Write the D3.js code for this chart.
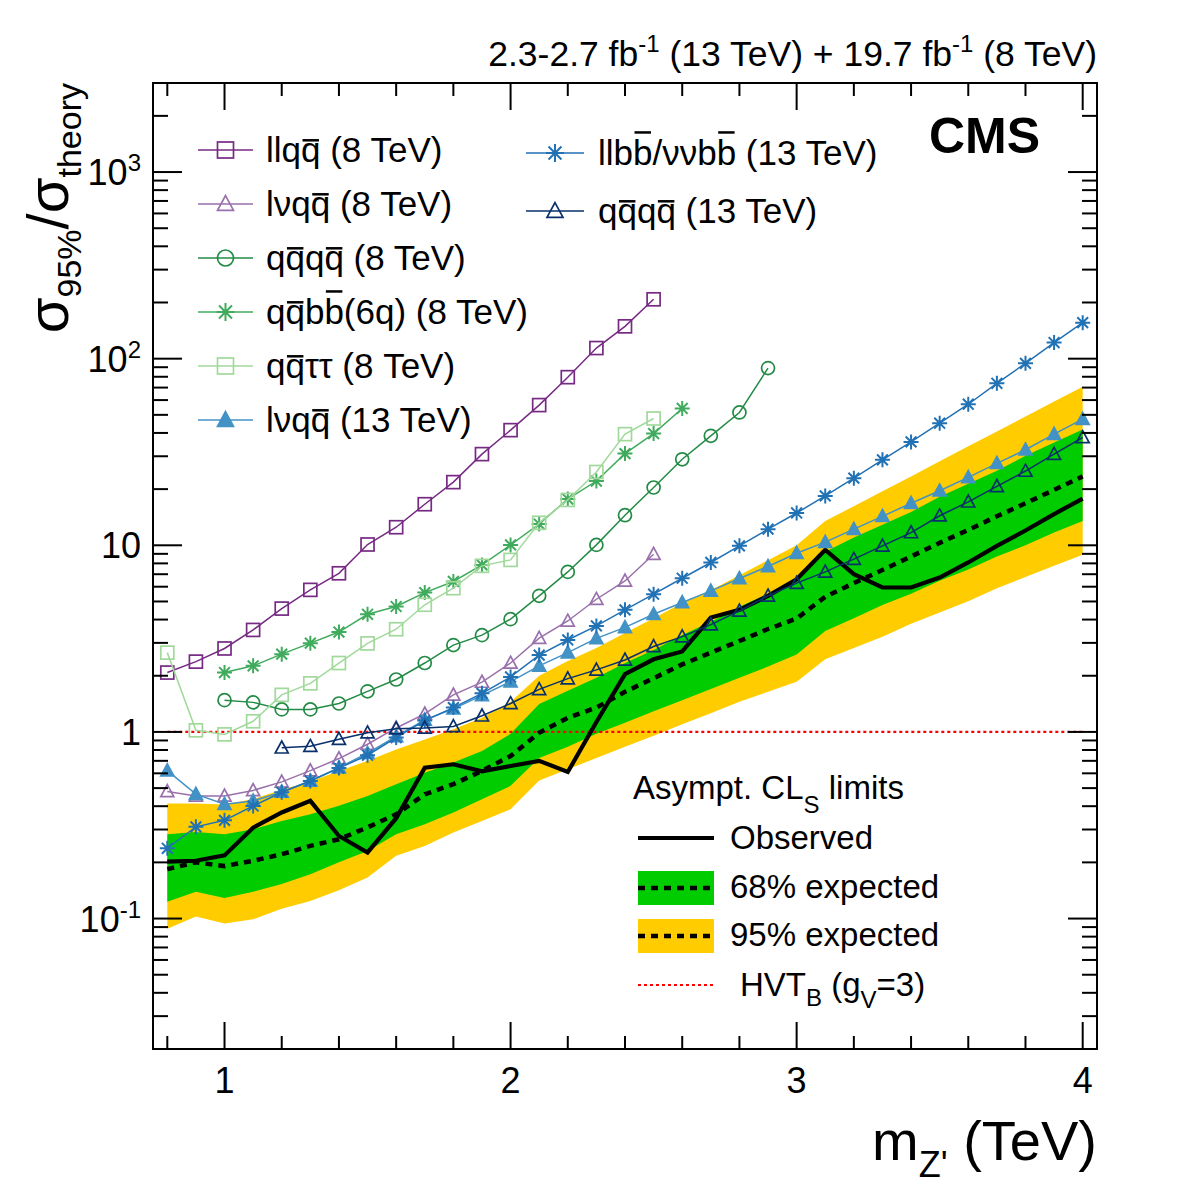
<!DOCTYPE html>
<html>
<head>
<meta charset="utf-8">
<script src="https://cdn.jsdelivr.net/npm/d3@7"></script>
<style>
body { margin: 0; background: #fff; }
text { font-family: "Liberation Sans", Arial, Helvetica, sans-serif; fill: #000; }
</style>
</head>
<body>
<svg width="1182" height="1194"></svg>
<script>
// mass points (TeV)
var massAll = [0.8, 0.9, 1.0, 1.1, 1.2, 1.3, 1.4, 1.5, 1.6, 1.7, 1.8, 1.9, 2.0, 2.1, 2.2, 2.3, 2.4,
               2.5, 2.6, 2.7, 2.8, 2.9, 3.0, 3.1, 3.2, 3.3, 3.4, 3.5, 3.6, 3.7, 3.8, 3.9, 4.0];

// combined limits
var observed = [0.202, 0.204, 0.218, 0.307, 0.37, 0.427, 0.277, 0.226, 0.345, 0.644, 0.671, 0.615, 0.657,
                0.70, 0.61, 1.13, 2.04, 2.45, 2.70, 4.10, 4.51, 5.36, 6.58, 9.45, 7.0, 5.94, 5.94, 6.72,
                8.09, 9.93, 12.0, 14.7, 17.8];
var expected = [0.184, 0.2, 0.191, 0.204, 0.221, 0.245, 0.266, 0.308, 0.362, 0.463, 0.525, 0.618, 0.743,
                0.99, 1.19, 1.35, 1.64, 1.94, 2.3, 2.66, 3.07, 3.56, 4.05, 5.3, 6.27, 7.38, 8.71, 10.3,
                12.1, 14.3, 16.8, 19.8, 23.4];
var up1 = [0.283, 0.291, 0.283, 0.301, 0.333, 0.362, 0.402, 0.454, 0.525, 0.605, 0.685, 0.791, 0.977,
           1.41, 1.66, 1.95, 2.34, 2.75, 3.31, 3.89, 4.68, 5.5, 6.61, 9.23, 11.0, 12.9, 15.1, 18.2,
           21.4, 25.1, 30.2, 35.5, 41.7];
var dn1 = [0.123, 0.139, 0.129, 0.139, 0.153, 0.173, 0.2, 0.23, 0.283, 0.32, 0.37, 0.436, 0.514,
           0.724, 0.832, 0.977, 1.12, 1.29, 1.48, 1.70, 1.95, 2.24, 2.6, 3.47, 4.07, 4.79, 5.5, 6.46,
           7.41, 8.71, 10.0, 11.7, 13.5];
var up2 = [0.413, 0.413, 0.408, 0.437, 0.49, 0.543, 0.617, 0.70, 0.804, 0.912, 1.035, 1.19, 1.45,
           2.0, 2.4, 2.82, 3.39, 4.07, 4.9, 5.75, 6.92, 8.32, 10.0, 13.5, 16.2, 19.5, 23.4, 28.2,
           33.9, 40.7, 49.0, 58.9, 70.8];
var dn2 = [0.0883, 0.1026, 0.094, 0.099, 0.113, 0.124, 0.142, 0.166, 0.217, 0.245, 0.289, 0.333, 0.385,
           0.55, 0.631, 0.724, 0.832, 0.955, 1.1, 1.26, 1.45, 1.64, 1.86, 2.45, 2.82, 3.24, 3.8, 4.37,
           5.01, 5.89, 6.76, 7.76, 8.91];

// individual channels
var llqq8 = [2.08, 2.38, 2.80, 3.52, 4.58, 5.77, 7.08, 10.1, 12.5, 16.6, 21.8, 30.8, 41.4, 56.4, 79.6, 114, 149, 208];
var lvqq8 = [0.48, 0.454, 0.454, 0.486, 0.54, 0.62, 0.72, 0.859, 1.05, 1.25, 1.58, 1.85, 2.34, 3.18, 3.93, 5.14, 6.44, 8.96];
var qqqq8 = [1.48, 1.44, 1.32, 1.32, 1.42, 1.65, 1.91, 2.34, 2.92, 3.30, 4.02, 5.36, 7.20, 10.05, 14.5, 20.4, 28.9, 38.6, 51.5, 89];
var qqbb8 = [2.08, 2.26, 2.61, 2.99, 3.43, 4.27, 4.70, 5.58, 6.40, 7.85, 10.05, 13.0, 17.7, 22.1, 31.0, 39.7, 54.1];
var qqtt8 = [2.66, 1.02, 0.97, 1.14, 1.58, 1.82, 2.34, 2.98, 3.55, 4.80, 5.89, 7.76, 8.35, 13.2, 17.5, 24.7, 39.4, 47.8];
var lvqq13 = [0.62, 0.464, 0.41, 0.427, 0.477, 0.546, 0.644, 0.769, 0.945, 1.16, 1.33, 1.57, 1.86, 2.26, 2.66,
              3.17, 3.63, 4.27, 4.94, 5.70, 6.64, 7.70, 9.07, 10.4, 12.2, 14.3, 16.8, 19.6, 23.1, 27.5, 32.5, 39.4, 47.4];
var llbb13 = [0.238, 0.31, 0.336, 0.401, 0.475, 0.546, 0.64, 0.75, 0.933, 1.15, 1.35, 1.61, 1.97, 2.58, 3.11,
              3.70, 4.51, 5.47, 6.66, 8.09, 9.93, 12.2, 14.9, 18.4, 22.9, 28.7, 35.8, 45.1, 57.0, 73.8, 94.4, 122, 156];
var qqqq13 = [0.822, 0.838, 0.914, 0.99, 1.04, 1.05, 1.07, 1.22, 1.42, 1.69, 1.93, 2.15, 2.43, 2.87, 3.24,
              3.76, 4.45, 5.36, 6.27, 7.20, 8.43, 9.93, 11.7, 14.4, 17.1, 20.7, 25.0, 30.8, 37.8];

var hvt = 1;

// "~" puts a bar over the character before it
var channels = [
  { label: "llqq~ (8 TeV)", m0: 0.8, vals: llqq8, color: "#762a83", mk: "square" },
  { label: "lνqq~ (8 TeV)", m0: 0.8, vals: lvqq8, color: "#9970ab", mk: "triangle" },
  { label: "qq~qq~ (8 TeV)", m0: 1.0, vals: qqqq8, color: "#238b45", mk: "circle" },
  { label: "qq~bb~(6q) (8 TeV)", m0: 1.0, vals: qqbb8, color: "#41ab5d", mk: "star" },
  { label: "qq~ττ (8 TeV)", m0: 0.8, vals: qqtt8, color: "#a1d99b", mk: "square" },
  { label: "lνqq~ (13 TeV)", m0: 0.8, vals: lvqq13, color: "#4292c6", mk: "triangleFilled" },
  { label: "llbb~/ννbb~ (13 TeV)", m0: 0.8, vals: llbb13, color: "#2171b5", mk: "star" },
  { label: "qq~qq~ (13 TeV)", m0: 1.2, vals: qqqq13, color: "#08306b", mk: "triangle" }
];

var svg = d3.select("svg");
var L = 153, R = 1097, T = 83, B = 1049;

var x = d3.scaleLinear().domain([0.75, 4.05]).range([L, R]);
var y = d3.scaleLog().domain([0.02, 3000]).range([B, T]);

function pts(m0, vals) {
  var i0 = massAll.findIndex(function (m) { return Math.abs(m - m0) < 1e-6; });
  return vals.map(function (v, i) { return { m: massAll[i0 + i], v: v }; });
}

// bands
var band = massAll.map(function (m, i) {
  return { m: m, d2: dn2[i], u2: up2[i], d1: dn1[i], u1: up1[i], e: expected[i], o: observed[i] };
});

var area2 = d3.area().x(function (d) { return x(d.m); })
  .y0(function (d) { return y(d.d2); }).y1(function (d) { return y(d.u2); });
var area1 = d3.area().x(function (d) { return x(d.m); })
  .y0(function (d) { return y(d.d1); }).y1(function (d) { return y(d.u1); });

svg.append("path").attr("d", area2(band)).attr("fill", "#ffcc00");
svg.append("path").attr("d", area1(band)).attr("fill", "#00cc00");

// HVT reference line
svg.append("line")
  .attr("x1", x(0.8)).attr("x2", x(4.0))
  .attr("y1", y(hvt)).attr("y2", y(hvt))
  .attr("stroke", "#ff0000").attr("stroke-width", 2.2).attr("stroke-dasharray", "3,3");

var line = d3.line().x(function (d) { return x(d.m); }).y(function (d) { return y(d.v); });

svg.append("path")
  .attr("d", d3.line().x(function (d) { return x(d.m); }).y(function (d) { return y(d.e); })(band))
  .attr("fill", "none").attr("stroke", "#000").attr("stroke-width", 4.5).attr("stroke-dasharray", "7,6");

svg.append("path")
  .attr("d", d3.line().x(function (d) { return x(d.m); }).y(function (d) { return y(d.o); })(band))
  .attr("fill", "none").attr("stroke", "#000").attr("stroke-width", 4.2);

function marker(g, type, cx, cy, s, color) {
  var h = s / 2;
  if (type === "square") {
    g.append("rect").attr("x", cx - h).attr("y", cy - h).attr("width", s).attr("height", s)
      .attr("fill", "none").attr("stroke", color).attr("stroke-width", 1.7);
  } else if (type === "circle") {
    g.append("circle").attr("cx", cx).attr("cy", cy).attr("r", h)
      .attr("fill", "none").attr("stroke", color).attr("stroke-width", 1.7);
  } else if (type === "triangle" || type === "triangleFilled") {
    g.append("path")
      .attr("d", "M" + cx + "," + (cy - h * 1.05) + "L" + (cx + h) + "," + (cy + h * 0.8) + "L" + (cx - h) + "," + (cy + h * 0.8) + "Z")
      .attr("fill", type === "triangleFilled" ? color : "none")
      .attr("stroke", color).attr("stroke-width", 1.7);
  } else if (type === "star") {
    var a = h * 0.72;
    g.append("path")
      .attr("d", "M" + (cx - h) + "," + cy + "H" + (cx + h) + "M" + cx + "," + (cy - h) + "V" + (cy + h) +
        "M" + (cx - a) + "," + (cy - a) + "L" + (cx + a) + "," + (cy + a) +
        "M" + (cx - a) + "," + (cy + a) + "L" + (cx + a) + "," + (cy - a))
      .attr("fill", "none").attr("stroke", color).attr("stroke-width", 2);
  }
}

var gs = svg.append("g");
channels.forEach(function (c) {
  var p = pts(c.m0, c.vals);
  gs.append("path").attr("d", line(p)).attr("fill", "none").attr("stroke", c.color).attr("stroke-width", 1.5);
  p.forEach(function (d) { marker(gs, c.mk, x(d.m), y(d.v), c.mk === "star" ? 15 : 13, c.color); });
});

// frame and ticks
svg.append("rect").attr("x", L).attr("y", T).attr("width", R - L).attr("height", B - T)
  .attr("fill", "none").attr("stroke", "#000").attr("stroke-width", 2);

var gt = svg.append("g").attr("stroke", "#000").attr("stroke-width", 2);
var xMajor = [1, 2, 3, 4];
var xMinor = d3.range(0.8, 4.01, 0.2).filter(function (v) { return Math.abs(v - Math.round(v)) > 0.01; });
xMajor.concat(xMinor).forEach(function (v) {
  var len = xMajor.indexOf(v) >= 0 ? 27 : 13;
  var px = x(v);
  gt.append("line").attr("x1", px).attr("x2", px).attr("y1", B).attr("y2", B - len);
  gt.append("line").attr("x1", px).attr("x2", px).attr("y1", T).attr("y2", T + len);
});
var yMajor = [0.1, 1, 10, 100, 1000];
var yMinor = [];
[-2, -1, 0, 1, 2, 3].forEach(function (e) {
  for (var k = 2; k <= 9; k++) {
    var v = k * Math.pow(10, e);
    if (v >= 0.02 && v <= 3000) yMinor.push(v);
  }
});
yMajor.forEach(function (v) {
  var py = y(v);
  gt.append("line").attr("x1", L).attr("x2", L + 29).attr("y1", py).attr("y2", py);
  gt.append("line").attr("x1", R).attr("x2", R - 29).attr("y1", py).attr("y2", py);
});
yMinor.forEach(function (v) {
  var py = y(v);
  gt.append("line").attr("x1", L).attr("x2", L + 15).attr("y1", py).attr("y2", py);
  gt.append("line").attr("x1", R).attr("x2", R - 15).attr("y1", py).attr("y2", py);
});

// tick labels
var fsTick = 36;
xMajor.forEach(function (v) {
  svg.append("text").attr("x", x(v)).attr("y", 1093).attr("text-anchor", "middle")
    .attr("font-size", fsTick).text(v);
});
var yLabels = [["10", "-1"], ["1", ""], ["10", ""], ["10", "2"], ["10", "3"]];
yMajor.forEach(function (v, i) {
  var t = svg.append("text").attr("x", 141).attr("y", y(v) + 13).attr("text-anchor", "end")
    .attr("font-size", fsTick);
  t.append("tspan").text(yLabels[i][0]);
  if (yLabels[i][1]) t.append("tspan").attr("font-size", 24).attr("dy", -14).text(yLabels[i][1]);
});

// axis titles
var yt = svg.append("text").attr("transform", "translate(68," + T + ") rotate(-90)")
  .attr("text-anchor", "end").attr("font-size", 58);
yt.append("tspan").text("σ");
yt.append("tspan").attr("font-size", 34).attr("dy", 13).text("95%");
yt.append("tspan").attr("dy", -13).text("/σ");
yt.append("tspan").attr("font-size", 34).attr("dy", 13).text("theory");

var xt = svg.append("text").attr("x", R).attr("y", 1160).attr("text-anchor", "end").attr("font-size", 56);
xt.append("tspan").text("m");
xt.append("tspan").attr("font-size", 36).attr("dy", 17).text("Z'");
xt.append("tspan").attr("dy", -17).text(" (TeV)");

// top label and CMS
var tl = svg.append("text").attr("x", R).attr("y", 66).attr("text-anchor", "end").attr("font-size", 35.5);
tl.append("tspan").text("2.3-2.7 fb");
tl.append("tspan").attr("font-size", 24).attr("dy", -14).text("-1");
tl.append("tspan").attr("dy", 14).text(" (13 TeV) + 19.7 fb");
tl.append("tspan").attr("font-size", 24).attr("dy", -14).text("-1");
tl.append("tspan").attr("dy", 14).text(" (8 TeV)");

svg.append("text").attr("x", 1040).attr("y", 153).attr("text-anchor", "end")
  .attr("font-size", 50).attr("font-weight", "bold").text("CMS");

// channel legend
function barLabel(g, px, py, s, fs) {
  var plain = "", bars = [];
  for (var i = 0; i < s.length; i++) {
    if (s[i] === "~") { bars.push(plain.length - 1); continue; }
    plain += s[i];
  }
  var t = g.append("text").attr("x", px).attr("y", py).attr("font-size", fs).text(plain);
  bars.forEach(function (k) {
    var b = t.node().getExtentOfChar(k);
    var yy = py - (plain[k] === "b" ? 0.93 : 0.62) * fs;
    g.append("line").attr("x1", b.x + 1.5).attr("x2", b.x + b.width - 1.5)
      .attr("y1", yy).attr("y2", yy).attr("stroke", "#000").attr("stroke-width", 2.5);
  });
  return t;
}

var gl = svg.append("g");
channels.forEach(function (c, i) {
  var col = i < 6 ? 0 : 1;
  var row = i < 6 ? i : i - 6;
  var cy = col === 0 ? 150 + row * 54 : 153 + row * 58;
  var x0 = col === 0 ? 198 : 526, x1 = col === 0 ? 253 : 584, tx = col === 0 ? 266 : 598;
  gl.append("line").attr("x1", x0).attr("x2", x1).attr("y1", cy).attr("y2", cy)
    .attr("stroke", c.color).attr("stroke-width", 1.5);
  marker(gl, c.mk, (x0 + x1) / 2, cy, c.mk === "star" ? 18 : 16, c.color);
  barLabel(gl, tx, cy + 12, c.label, 35);
});

// limits legend
var gb = svg.append("g");
var t1 = gb.append("text").attr("x", 633).attr("y", 799).attr("font-size", 33);
t1.append("tspan").text("Asympt. CL");
t1.append("tspan").attr("font-size", 24).attr("dy", 14).text("S");
t1.append("tspan").attr("dy", -14).text(" limits");

gb.append("line").attr("x1", 638).attr("x2", 714).attr("y1", 838).attr("y2", 838)
  .attr("stroke", "#000").attr("stroke-width", 4.2);
gb.append("text").attr("x", 730).attr("y", 849).attr("font-size", 33).text("Observed");

[["#00cc00", 871, "68% expected"], ["#ffcc00", 919, "95% expected"]].forEach(function (r) {
  gb.append("rect").attr("x", 638).attr("y", r[1]).attr("width", 76).attr("height", 34).attr("fill", r[0]);
  gb.append("line").attr("x1", 638).attr("x2", 714).attr("y1", r[1] + 17).attr("y2", r[1] + 17)
    .attr("stroke", "#000").attr("stroke-width", 4.5).attr("stroke-dasharray", "7,6");
  gb.append("text").attr("x", 730).attr("y", r[1] + 27).attr("font-size", 33).text(r[2]);
});

gb.append("line").attr("x1", 638).attr("x2", 714).attr("y1", 985).attr("y2", 985)
  .attr("stroke", "#ff0000").attr("stroke-width", 2.2).attr("stroke-dasharray", "3,3");
var t2 = gb.append("text").attr("x", 740).attr("y", 996).attr("font-size", 33);
t2.append("tspan").text("HVT");
t2.append("tspan").attr("font-size", 24).attr("dy", 10).text("B");
t2.append("tspan").attr("dy", -10).text(" (g");
t2.append("tspan").attr("font-size", 24).attr("dy", 12).text("V");
t2.append("tspan").attr("dy", -12).text("=3)");
</script>
</body>
</html>
